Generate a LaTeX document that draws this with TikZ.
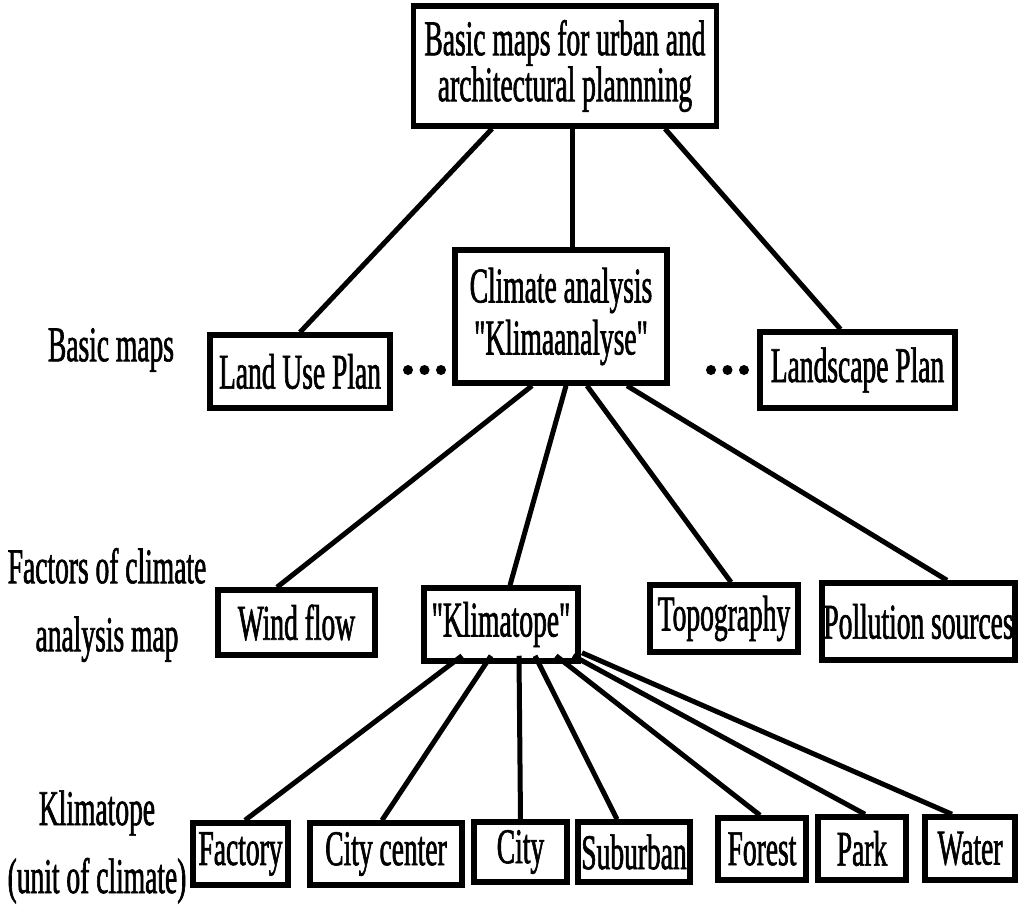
\documentclass[tikz,border=0pt]{standalone}
\usepackage{fontspec}
\setmainfont{Liberation Serif}[FakeStretch=0.55, FakeBold=1.2, Ligatures=TeXOff]
\newcommand\diagfont{\fontsize{50pt}{50pt}\selectfont}

\begin{document}
\begin{tikzpicture}[x=1pt,y=-1pt,
  box/.style={draw, line width=5.5pt, inner sep=0pt, align=center, font=\diagfont},
  lbl/.style={inner sep=0pt, align=center, font=\diagfont},
  link/.style={line width=5pt},
  dot/.style={circle, fill, inner sep=0pt, minimum size=10pt}]
\useasboundingbox (0,0) rectangle (1021,913);

% top level
\node[box, minimum width=303pt, minimum height=120pt] (root) at (565,66)
  {Basic maps for urban and\\[-4pt]architectural plannning};

% basic maps
\node[lbl] (basicmaps) at (111,350) {Basic maps};
\node[box, minimum width=180pt, minimum height=73pt] (landuse) at (300,371.5) {Land Use Plan};
\node[box, minimum width=212pt, minimum height=133pt] (climate) at (561,316.5)
  {Climate analysis\\[2pt]"Klimaanalyse"};
\node[box, minimum width=195pt, minimum height=76pt] (landscape) at (857.5,370) {Landscape Plan};
\node[dot] (d1) at (408,370) {};
\node[dot] (d2) at (424.5,370) {};
\node[dot] (d3) at (441,370) {};
\node[dot] (d4) at (711,370) {};
\node[dot] (d5) at (727.5,370) {};
\node[dot] (d6) at (744,370) {};

% factors of the climate analysis map
\node[lbl] (factors) at (107,605) {Factors of climate\\[18pt]analysis map};
\node[box, minimum width=157pt, minimum height=65pt] (wind) at (296.5,622.5) {Wind flow};
\node[box, minimum width=154pt, minimum height=73pt] (klimatope) at (501,624.5) {"Klimatope"};
\node[box, minimum width=148pt, minimum height=67pt] (topo) at (724,618.5) {Topography};
\node[box, minimum width=193pt, minimum height=77pt] (pollution) at (918.5,621.5) {Pollution sources};

% klimatope units
\node[lbl] (unitlbl) at (97,847) {Klimatope\\[18pt](unit of climate)};
\node[box, minimum width=95pt, minimum height=62pt] (factory) at (240.5,854) {Factory};
\node[box, minimum width=152pt, minimum height=62pt] (citycenter) at (386,854) {City center};
\node[box, minimum width=93pt, minimum height=60pt] (city) at (520.5,852) {City};
\node[box, minimum width=112pt, minimum height=60pt] (suburban) at (634,852) {Suburban};
\node[box, minimum width=88pt, minimum height=62pt] (forest) at (762,849) {Forest};
\node[box, minimum width=88pt, minimum height=63pt] (park) at (862,848.5) {Park};
\node[box, minimum width=90pt, minimum height=63pt] (water) at (970,848.5) {Water};

% connectors: top level to basic maps
\draw[link] ([xshift=-73pt]root.south) -- (landuse.north);
\draw[link] ([xshift=7pt]root.south) -- ([xshift=11pt]climate.north);
\draw[link] ([xshift=100pt]root.south) -- ([xshift=-17pt]landscape.north);

% connectors: climate analysis to its factors
\draw[link] ([xshift=-29pt]climate.south) -- ([xshift=-19.5pt]wind.north);
\draw[link] ([xshift=5pt]climate.south) -- ([xshift=9pt]klimatope.north);
\draw[link] ([xshift=26pt]climate.south) -- ([xshift=7pt]topo.north);
\draw[link] ([xshift=66pt]climate.south) -- ([xshift=28.5pt]pollution.north);

% connectors: klimatope to its units
\draw[link] ([xshift=-39pt,yshift=8pt]klimatope.south) -- ([xshift=4.5pt]factory.north);
\draw[link] ([xshift=-10pt,yshift=8pt]klimatope.south) -- ([xshift=-4pt]citycenter.north);
\draw[link] ([xshift=18pt,yshift=8pt]klimatope.south) -- (city.north);
\draw[link] ([xshift=34pt,yshift=8pt]klimatope.south) -- ([xshift=-17pt]suburban.north);
\draw[link] ([xshift=55pt,yshift=8pt]klimatope.south) -- ([xshift=-2pt]forest.north);
\draw[link] ([xshift=72pt,yshift=8pt]klimatope.south) -- ([xshift=3pt]park.north);
\draw[link] ([xshift=81pt,yshift=11pt]klimatope.south) -- ([xshift=-18pt]water.north);
\end{tikzpicture}
\end{document}
